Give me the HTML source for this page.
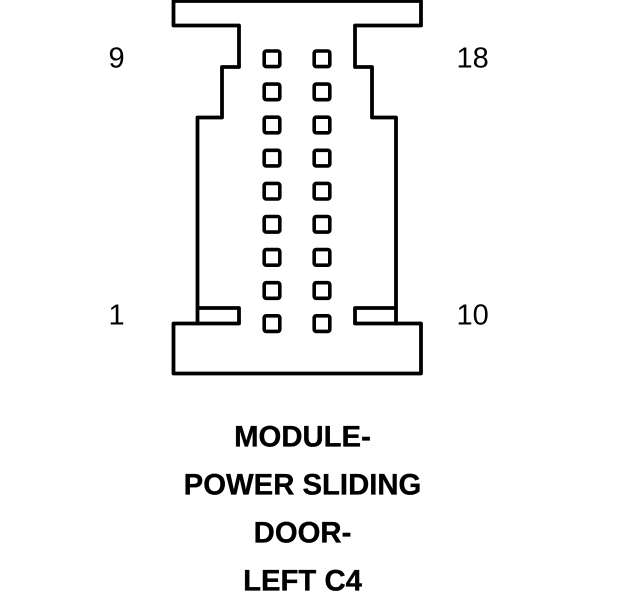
<!DOCTYPE html>
<html>
<head>
<meta charset="utf-8">
<style>
html,body{margin:0;padding:0;background:#fff}
svg{display:block}
text{font-family:"Liberation Sans",Arial,sans-serif;fill:#000}
.n{font-size:29px}
.t{font-size:29.3px;font-weight:bold;text-anchor:middle;stroke:#000;stroke-width:.35px}
</style>
</head>
<body>
<svg width="624" height="600" viewBox="0 0 624 600" xmlns="http://www.w3.org/2000/svg">
<rect width="624" height="600" fill="#fff"/>
<g fill="none" stroke="#000" stroke-width="3.8" stroke-linejoin="round">
<path d="M173.5 1H421V25.5H355V67H372V117.5H396V323.5H421V373.5H173.5V323.5H197.5V117.5H222V67H239V25.5H173.5Z"/>
<path d="M197.5 308H239V323.5H197.5"/>
<path d="M396 308H355V323.5H396"/>
<g stroke-width="3.6">
<rect x="264.2" y="51" width="15.6" height="15.6" rx="2"/>
<rect x="264.2" y="84.1" width="15.6" height="15.6" rx="2"/>
<rect x="264.2" y="117.2" width="15.6" height="15.6" rx="2"/>
<rect x="264.2" y="150.3" width="15.6" height="15.6" rx="2"/>
<rect x="264.2" y="183.4" width="15.6" height="15.6" rx="2"/>
<rect x="264.2" y="216.5" width="15.6" height="15.6" rx="2"/>
<rect x="264.2" y="249.6" width="15.6" height="15.6" rx="2"/>
<rect x="264.2" y="282.7" width="15.6" height="15.6" rx="2"/>
<rect x="264.2" y="315.8" width="15.6" height="15.6" rx="2"/>
<rect x="314.2" y="51" width="15.6" height="15.6" rx="2"/>
<rect x="314.2" y="84.1" width="15.6" height="15.6" rx="2"/>
<rect x="314.2" y="117.2" width="15.6" height="15.6" rx="2"/>
<rect x="314.2" y="150.3" width="15.6" height="15.6" rx="2"/>
<rect x="314.2" y="183.4" width="15.6" height="15.6" rx="2"/>
<rect x="314.2" y="216.5" width="15.6" height="15.6" rx="2"/>
<rect x="314.2" y="249.6" width="15.6" height="15.6" rx="2"/>
<rect x="314.2" y="282.7" width="15.6" height="15.6" rx="2"/>
<rect x="314.2" y="315.8" width="15.6" height="15.6" rx="2"/>
</g>
</g>
<text class="n" x="108.500" y="67.500">9</text>
<text class="n" x="456.500" y="67.500">18</text>
<text class="n" x="108.500" y="324.500">1</text>
<text class="n" x="456.500" y="324.500">10</text>
<text class="t" x="302.500" y="446.500">MODULE-</text>
<text class="t" x="302.500" y="494.500">POWER SLIDING</text>
<text class="t" x="302.500" y="542.500">DOOR-</text>
<text class="t" x="302.500" y="590.500">LEFT C4</text>
</svg>
</body>
</html>
